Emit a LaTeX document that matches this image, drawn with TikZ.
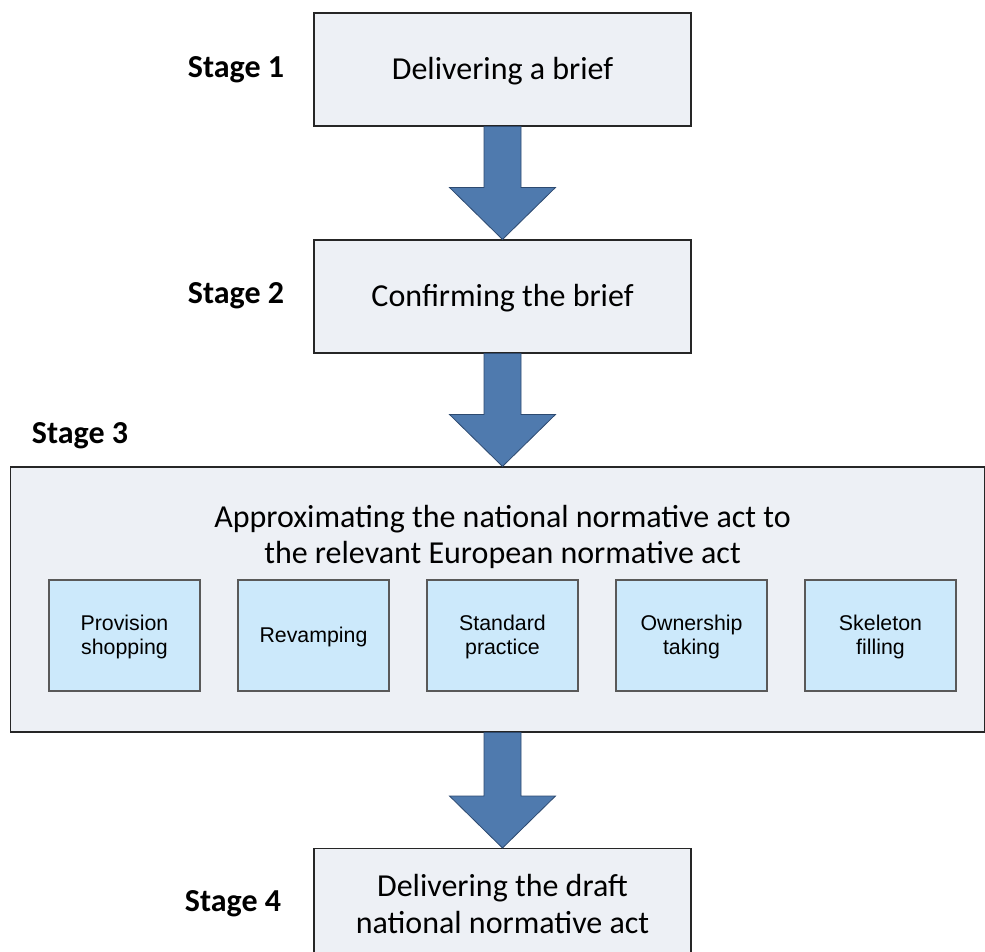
\documentclass[tikz,border=0pt]{standalone}
\usepackage{fontspec}
\setmainfont{Carlito}
\newfontfamily\arialf{Liberation Sans}
\usetikzlibrary{calc}
\definecolor{boxfill}{HTML}{EDF0F5}
\definecolor{subfill}{HTML}{CCE9FB}
\definecolor{arrfill}{HTML}{4F7AAE}
\definecolor{arrline}{HTML}{2D4A70}
\tikzset{
  mainbox/.style={draw=black!85, fill=boxfill, line width=0.8pt, minimum width=282.75pt, minimum height=84.75pt, inner sep=0pt, align=center, font=\fontsize{24}{27.5}\selectfont},
  subbox/.style={draw=black!65, fill=subfill, line width=0.8pt, minimum width=113.25pt, minimum height=83.25pt, inner sep=0pt, align=center, font=\arialf\fontsize{16}{18.5}\selectfont},
  stagelabel/.style={font=\bfseries\fontsize{24}{28}\selectfont, inner sep=0pt},
  bigtext/.style={font=\fontsize{24}{27.5}\selectfont, align=center, inner sep=0pt},
  arr/.style={draw=arrline, fill=arrfill, line width=0.6pt, line join=miter}
}
\newcommand\bigarrow[2]{%
  \draw[arr] ($(#1 -| #2)+(-18.5,0)$) -- ($(#2)+(-18.5,-52)$) -- ($(#2)+(-53,-52)$) -- (#2) -- ($(#2)+(53,-52)$) -- ($(#2)+(18.5,-52)$) -- ($(#1 -| #2)+(18.5,0)$) -- cycle;}
\begin{document}
\begin{tikzpicture}[x=0.75pt,y=-0.75pt]
\useasboundingbox (0,0) rectangle (985,952);
\clip (0,0) rectangle (985,952);
% stage boxes
\node[mainbox] (b1) at (502.5,69.5) {};
\node[bigtext] (b1t) at (502.5,71) {Delivering a brief};
\node[mainbox] (b2) at (502.5,296.5) {};
\node[bigtext] (b2t) at (502.5,298) {Confirming the brief};
\node[draw=black!85, fill=boxfill, line width=0.8pt, minimum width=730.5pt, minimum height=198.75pt, inner sep=0pt] (s3) at (497.5,599.5) {};
\node[bigtext] (s3t) at (502.5,537) {Approximating the national normative act to\\the relevant European normative act};
\node[mainbox, minimum height=90pt, anchor=north] (b4) at (502.5,848) {};
\node[bigtext] (b4t) at (502.5,904) {Delivering the draft\\national normative act};
% sub boxes
\node[subbox] (p1) at (124.5,635.5) {};
\node[subbox] (p2) at (313.5,635.5) {};
\node[subbox] (p3) at (502.5,635.5) {};
\node[subbox] (p4) at (691.5,635.5) {};
\node[subbox] (p5) at (880.5,635.5) {};
\begin{scope}[every node/.style={align=center, inner sep=0pt, font=\arialf\fontsize{16}{18.5}\selectfont}]
\node (p1t) at (124.5,637) {Provision\\shopping};
\node (p2t) at (313.5,637) {Revamping};
\node (p3t) at (502.5,637) {Standard\\practice};
\node (p4t) at (691.5,637) {Ownership\\taking};
\node (p5t) at (880.5,637) {Skeleton\\filling};
\end{scope}
% stage labels
\node[stagelabel] (l1) at (236,70) {Stage 1};
\node[stagelabel] (l2) at (236,296) {Stage 2};
\node[stagelabel] (l3) at (80,436) {Stage 3};
\node[stagelabel] (l4) at (233,904) {Stage 4};
% arrow tips
\coordinate (t2) at (b2.north);
\coordinate (t3) at (s3.north -| b2.north);
\coordinate (t4) at (b4.north);
\coordinate (f1) at (b1.south);
\coordinate (f2) at (b2.south);
\coordinate (f3) at (s3.south);
% arrows
\bigarrow{f1}{t2}
\bigarrow{f2}{t3}
\bigarrow{f3}{t4}
\end{tikzpicture}
\end{document}
